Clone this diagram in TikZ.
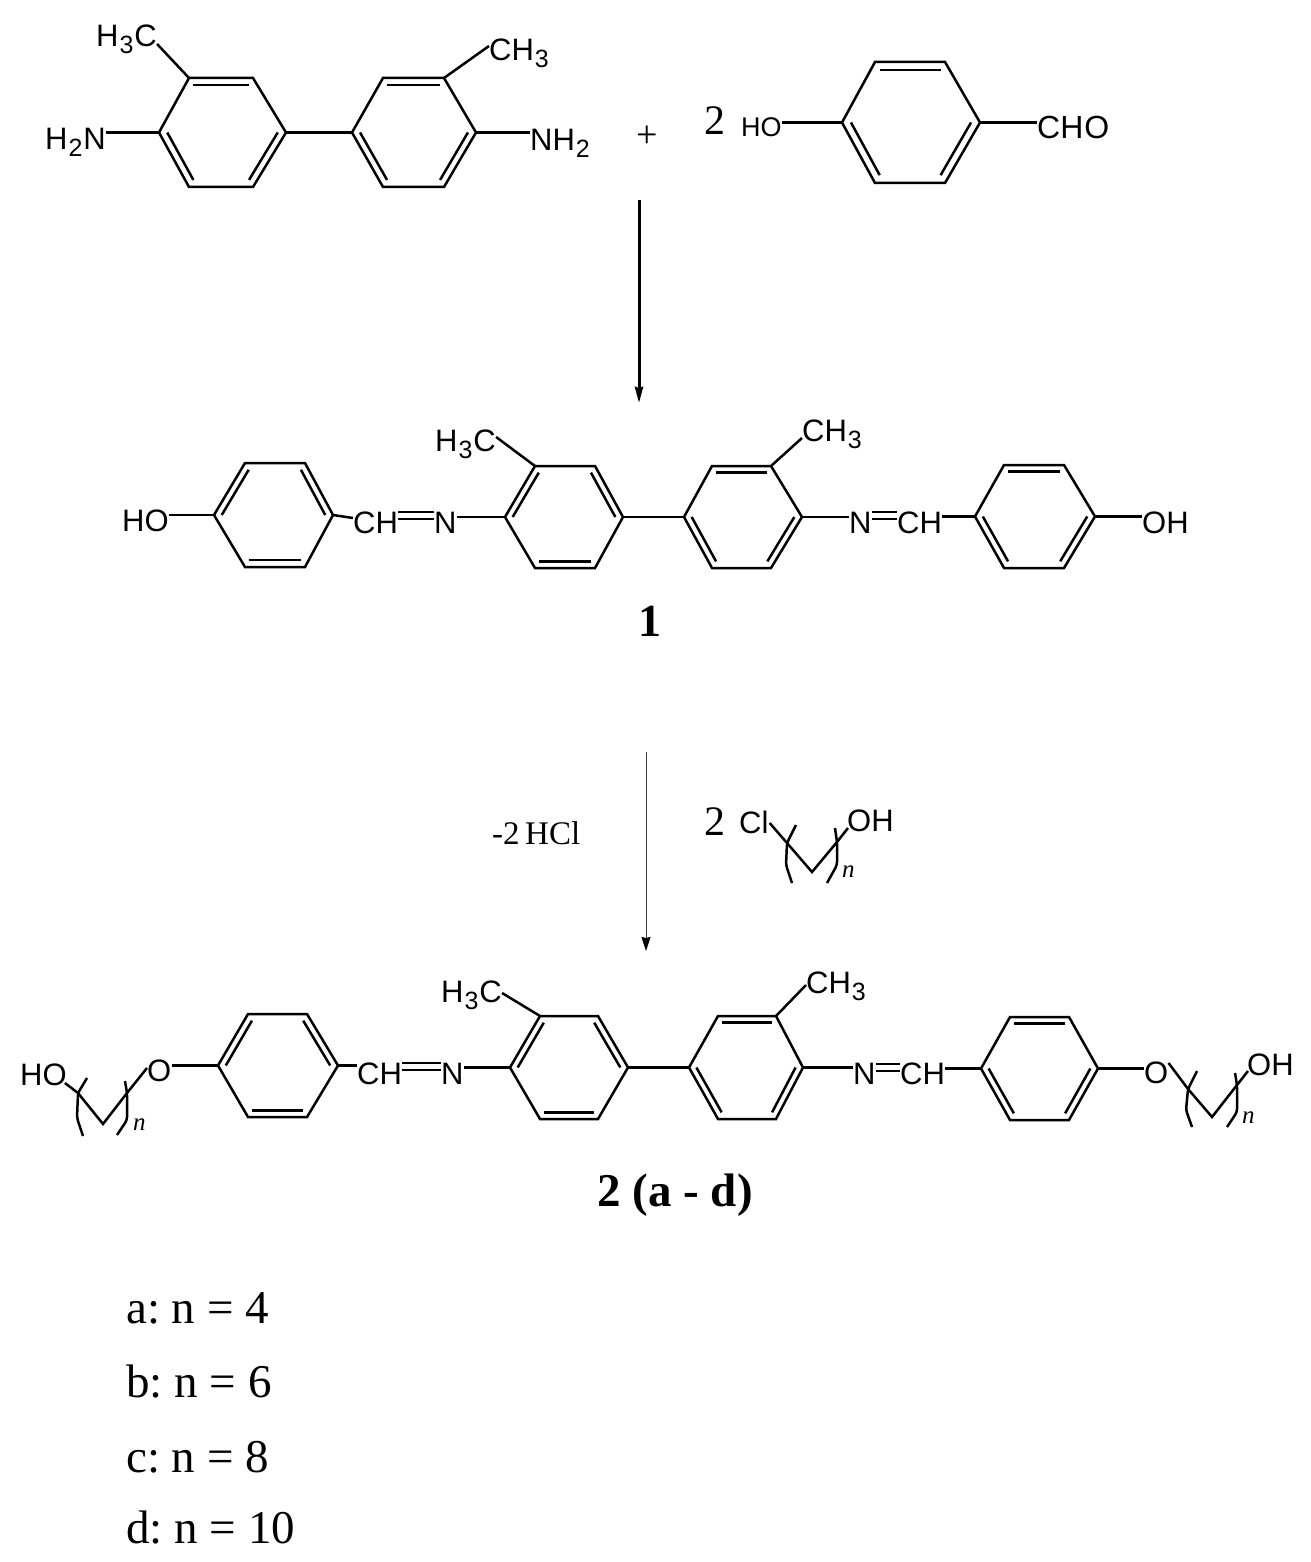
\documentclass[tikz,border=0pt]{standalone}
\usepackage{fontspec}
\setmainfont{Liberation Serif}
\setsansfont{Liberation Sans}
\usetikzlibrary{calc,arrows.meta}

\tikzset{
    bond/.style={line width=2.5pt,line join=miter,black},
    brack/.style={bond,rounded corners=3pt},
    atom/.style={anchor=base west,inner sep=0pt,font=\fontsize{31}{32}\selectfont\sffamily},
    atomsm/.style={atom,font=\fontsize{27}{28}\selectfont\sffamily},
    label/.style={anchor=base west,inner sep=0pt,font=\fontsize{#1}{#1}\selectfont},
    idx/.style={anchor=base,inner sep=0pt,font=\fontsize{#1}{#1}\selectfont\bfseries}
}
\newcommand{\sbs}[1]{\kern1pt\raisebox{-7pt}{\fontsize{25}{25}\selectfont #1}\kern1pt}
% name, x of the four columns, top, bottom, double bonds
\newcommand{\benz}[8]{
    \coordinate (#1-l) at (#2,{(#6+#7)/2});
    \coordinate (#1-tl) at (#3,#6);
    \coordinate (#1-tr) at (#4,#6);
    \coordinate (#1-r) at (#5,{(#6+#7)/2});
    \coordinate (#1-br) at (#4,#7);
    \coordinate (#1-bl) at (#3,#7);
    \coordinate (#1-c) at ({(#2+#5)/2},{(#6+#7)/2});
    \draw[bond] (#1-l) -- (#1-tl) -- (#1-tr) -- (#1-r) -- (#1-br) -- (#1-bl) -- cycle;
    \foreach \p/\q in {#8}
        \draw[bond] ($(#1-c)!0.87!(#1-\p)$) -- ($(#1-c)!0.87!(#1-\q)$);
}
\frenchspacing

\begin{document}
\begin{tikzpicture}[x=1pt,y=-1pt]
    \useasboundingbox (0,0) rectangle (1310,1562);

    % starting materials
    \benz{ra}{159}{189}{253}{286}{78}{187}{tl/tr,l/bl,r/br}
    \benz{rb}{352}{383}{444}{476}{78}{187}{tl/tr,l/bl,r/br}
    \benz{rc}{842}{875}{945}{980}{62}{183}{tl/tr,l/bl,r/br}
    \node[atom] (hca) at (96,47) {H\sbs{3}C};
    \node[atom] (cha) at (489,61) {CH\sbs{3}};
    \node[atom] (hna) at (45,150) {H\sbs{2}N};
    \node[atom] (nha) at (530,151) {NH\sbs{2}};
    \node[label=38] (plus) at (636,148) {+};
    \node[label=42] (twoa) at (704,135) {2};
    \node[atomsm] (hoa) at (741,137) {HO};
    \node[atom,font=\fontsize{32}{33}\selectfont\sffamily] (cho) at (1037,139) {CH\kern1pt O};
    \draw[bond] (ra-tl) -- ([yshift=3pt]hca.base east);
    \draw[bond] (rb-tr) -- ([yshift=15pt]cha.base west);
    \draw[bond] (ra-l) -- (ra-l -| hna.east);
    \draw[bond] (rb-r) -- (rb-r -| nha.west);
    \draw[bond] (ra-r) -- (rb-l);
    \draw[bond] (rc-l) -- (rc-l -| hoa.east);
    \draw[bond] (rc-r) -- (rc-r -| cho.west);

    % first step
    \coordinate (sa) at (639,200);
    \coordinate (ea) at (639,403);
    \draw[line width=3pt,-{Stealth[length=16pt,width=8pt,inset=1pt]}] (sa) -- (ea);

    % compound 1
    \benz{rd}{214}{245}{305}{333}{463}{567}{l/tl,tr/r,bl/br}
    \benz{re}{505}{535}{595}{623}{466}{568}{l/tl,tr/r,bl/br}
    \benz{rf}{684}{712}{771}{802}{466}{568}{tl/tr,l/bl,r/br}
    \benz{rg}{975}{1004}{1064}{1095}{465}{568}{tl/tr,l/bl,r/br}
    \node[atom] (hob) at (122,531) {HO};
    \node[atom] (chb) at (353,533) {CH};
    \node[atom] (nb) at (434,533) {N};
    \node[atom] (hcb) at (435,451) {H\sbs{3}C};
    \node[atom] (chc) at (802,441) {CH\sbs{3}};
    \node[atom] (nc) at (849,533) {N};
    \node[atom] (chd) at (897,533) {CH};
    \node[atom] (ohb) at (1142,533) {OH};
    \node[idx=46] (one) at (650,636) {1};
    \draw[bond] (rd-l) -- (rd-l -| hob.east);
    \draw[bond] (rd-r) -- ([yshift=15pt]chb.base west);
    \draw[bond] ([yshift=21pt]chb.base east) -- ([yshift=21pt]nb.base west);
    \draw[bond] ([yshift=14pt]chb.base east) -- ([yshift=14pt]nb.base west);
    \draw[bond] (re-l) -- (re-l -| nb.east);
    \draw[bond] (re-tl) -- ([yshift=14pt]hcb.base east);
    \draw[bond] (re-r) -- (rf-l);
    \draw[bond] (rf-tr) -- ([yshift=3pt]chc.base west);
    \draw[bond] (rf-r) -- (rf-r -| nc.west);
    \draw[bond] ([yshift=21pt]nc.base east) -- ([yshift=21pt]chd.base west);
    \draw[bond] ([yshift=14pt]nc.base east) -- ([yshift=14pt]chd.base west);
    \draw[bond] (rg-l) -- (rg-l -| chd.east);
    \draw[bond] (rg-r) -- (rg-r -| ohb.west);

    % second step
    \coordinate (sb) at (646,752);
    \coordinate (eb) at (646,951);
    \draw[line width=1pt,black!75,-{Stealth[length=14pt,width=9pt,inset=1pt,black]}] (sb) -- (eb);
    \node[label=33] (hcl) at (492,844) {-2\,HCl};
    \node[label=42] (twob) at (704,835) {2};
    \node[atom] (cla) at (739,833) {Cl};
    \node[atom] (ohc) at (847,831) {OH};
    \node[label=25] (na) at (842,877) {\itshape n};
    \coordinate (ca) at (787,843);
    \coordinate (cb) at (812,872);
    \coordinate (cc) at (837,842);
    \draw[bond] ([shift={(1pt,10pt)}]cla.base east) -- (ca) -- (cb) -- (cc) -- ([shift={(1pt,3pt)}]ohc.base west);
    \draw[brack] (796,825) -- (ca) -- (786,865) -- (792,883);
    \draw[brack] (835,828) -- (cc) -- (837,865) -- (827,883);

    % compound 2
    \benz{rh}{218}{248}{307}{338}{1014}{1117}{l/tl,tr/r,bl/br}
    \benz{ri}{510}{540}{598}{628}{1016}{1119}{l/tl,tr/r,bl/br}
    \benz{rj}{689}{718}{776}{803}{1016}{1119}{tl/tr,l/bl,r/br}
    \benz{rk}{981}{1010}{1069}{1098}{1017}{1120}{tl/tr,l/bl,r/br}
    \node[atom] (hoc) at (20,1085) {HO};
    \node[atom] (oa) at (147,1081) {O};
    \node[atom] (che) at (357,1084) {CH};
    \node[atom] (nd) at (441,1084) {N};
    \node[atom] (hcc) at (441,1002) {H\sbs{3}C};
    \node[atom] (chf) at (806,993) {CH\sbs{3}};
    \node[atom] (ne) at (853,1084) {N};
    \node[atom] (chg) at (900,1084) {CH};
    \node[atom] (ob) at (1144,1083) {O};
    \node[atom] (ohd) at (1247,1075) {OH};
    \node[label=25] (nb2) at (133,1130) {\itshape n};
    \node[label=25] (nc2) at (1242,1123) {\itshape n};
    \node[idx=47] (two) at (675,1206) {2 (a - d)};
    \coordinate (da) at (78,1093);
    \coordinate (db) at (103,1124);
    \coordinate (dc) at (127,1093);
    \coordinate (ea2) at (1188,1089);
    \coordinate (eb2) at (1212,1117);
    \coordinate (ec2) at (1237,1085);
    \draw[bond] ([shift={(-2pt,2pt)}]hoc.base east) -- (da) -- (db) -- (dc) -- ([yshift=13pt]oa.base west);
    \draw[brack] (87,1078) -- (da) -- (77,1118) -- (83,1136);
    \draw[brack] (125,1081) -- (dc) -- (127,1120) -- (117,1135);
    \draw[bond] (rh-l) -- (rh-l -| oa.east);
    \draw[bond] (rh-r) -- (rh-r -| che.west);
    \draw[bond] ([yshift=21pt]che.base east) -- ([yshift=21pt]nd.base west);
    \draw[bond] ([yshift=14pt]che.base east) -- ([yshift=14pt]nd.base west);
    \draw[bond] (ri-l) -- (ri-l -| nd.east);
    \draw[bond] (ri-tl) -- ([yshift=9pt]hcc.base east);
    \draw[bond] (ri-r) -- (rj-l);
    \draw[bond] (rj-tr) -- ([yshift=8pt]chf.base west);
    \draw[bond] (rj-r) -- (rj-r -| ne.west);
    \draw[bond] ([yshift=20pt]ne.base east) -- ([yshift=20pt]chg.base west);
    \draw[bond] ([yshift=13pt]ne.base east) -- ([yshift=13pt]chg.base west);
    \draw[bond] (rk-l) -- (rk-l -| chg.east);
    \draw[bond] (rk-r) -- (rk-r -| ob.west);
    \draw[bond] ([yshift=20pt]ob.base east) -- (ea2) -- (eb2) -- (ec2) -- ([shift={(1pt,4pt)}]ohd.base west);
    \draw[brack] (1197,1071) -- (ea2) -- (1186,1110) -- (1192,1127);
    \draw[brack] (1235,1073) -- (ec2) -- (1237,1112) -- (1227,1127);

    % list of n
    \node[label=47] (la) at (126,1323) {a: n = 4};
    \node[label=47] (lb) at (126,1397) {b: n = 6};
    \node[label=47] (lc) at (126,1472) {c: n = 8};
    \node[label=47] (ld) at (126,1543) {d: n = 10};
\end{tikzpicture}
\end{document}
